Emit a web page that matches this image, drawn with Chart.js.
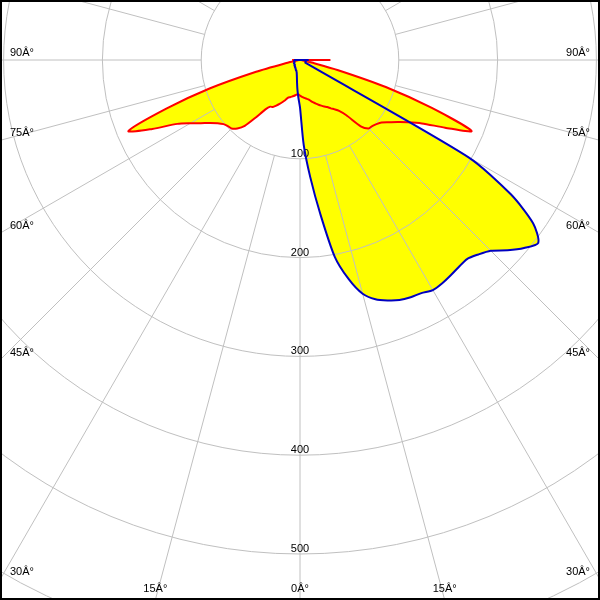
<!DOCTYPE html>
<html><head><meta charset="utf-8">
<script src="https://cdn.jsdelivr.net/npm/chart.js@4/dist/chart.umd.min.js"></script>
<style>html,body{margin:0;padding:0;background:#fff;overflow:hidden}canvas{display:block}</style>
</head><body>
<canvas id="c" width="600" height="600"></canvas>
<script>
// gamma angles (degrees from nadir), left plane negative, right plane positive
const angles = [];
for (let a = -90; a <= 90; a += 2.5) angles.push(a);

// red curve (C90-C270 plane), intensity values
const redValues = [
  8,3,2,2,4,14,46,96,144,188,165,140,128,119,111,105,101,99,98,94,87,73,61,56,55,52,49,46,43,40,39,38,37,36,35,35,
  36,
  37,38,39,40,41,43,45,47,49,51,53,55,58,61,65,73,91,98,99,101,104,110,117,126,139,162,188,142,91,40,12,4,2,2,3,30
];
// blue curve (C0-C180 plane)
const blueValues = [
  6,6,6,6,6,6,6,6,6,6,6,7,7,7,7,7,7,7,8,8,8,8,9,9,9,10,10,11,11,12,13,15,18,23,30,38,
  48,
  86,119,157,202,227,245,254,259,263,265,266,269,268,266,264,263,267,273,285,296,304,288,253,197,6,6,6,6,6,6,6,6,6,6,6,8
];

const ringValues = [100, 200, 300, 400, 500, 600];
const ringLabels = ['100', '200', '300', '400', '500'];
const spokeAngles = [];
for (let a = -165; a <= 180; a += 15) spokeAngles.push(a);
const angleLabelValues = [90, 75, 60, 45, 30, 15, 0];

function toXY(vals) {
  const pts = angles.map((a, i) => {
    const t = a * Math.PI / 180;
    return { x: vals[i] * Math.sin(t), y: -vals[i] * Math.cos(t) };
  });
  pts.push({ ...pts[0] });
  return pts;
}

const SCALE = 0.988; // px per candela unit
const polarGrid = {
  id: 'polarGrid',
  beforeDraw(chart) {
    const ctx = chart.ctx;
    ctx.save(); ctx.fillStyle = '#fff'; ctx.fillRect(0, 0, chart.width, chart.height); ctx.restore();
  },
  beforeDatasetsDraw(chart) {
    const { ctx, scales: { x, y } } = chart;
    const cx = x.getPixelForValue(0), cy = y.getPixelForValue(0);
    const rp = v => x.getPixelForValue(v) - cx;
    ctx.save();
    ctx.strokeStyle = '#c0c0c0';
    ctx.lineWidth = 1;
    ringValues.forEach(v => {
      ctx.beginPath(); ctx.arc(cx, cy, rp(v), 0, Math.PI * 2); ctx.stroke();
    });
    const r0 = rp(ringValues[0]);
    spokeAngles.forEach(a => {
      const t = a * Math.PI / 180;
      ctx.beginPath();
      ctx.moveTo(cx + r0 * Math.sin(t), cy + r0 * Math.cos(t));
      ctx.lineTo(cx + 1200 * Math.sin(t), cy + 1200 * Math.cos(t));
      ctx.stroke();
    });
    ctx.fillStyle = '#000';
    ctx.font = '11px "Liberation Sans", Arial, sans-serif';
    ctx.textAlign = 'center';
    ctx.textBaseline = 'alphabetic';
    ringLabels.forEach((lab, i) => {
      ctx.fillText(lab, cx, cy + rp(ringValues[i]) - 2);
    });
    ctx.restore();
  },
  afterDraw(chart) {
    const { ctx, width: W, height: H, scales: { x, y } } = chart;
    const cx = x.getPixelForValue(0), cy = y.getPixelForValue(0);
    ctx.save();
    ctx.fillStyle = '#000';
    ctx.font = '11px "Liberation Sans", Arial, sans-serif';
    ctx.textBaseline = 'middle';
    angleLabelValues.forEach(a => {
      const txt = a + 'Â°';
      const t = a * Math.PI / 180;
      const s = Math.sin(t), c = Math.cos(t);
      let yy = a === 90 ? cy : cy + cx * c / s;
      if (a !== 0 && yy <= H) {
        ctx.textAlign = 'left'; ctx.fillText(txt, 10, yy - 7.5);
        ctx.textAlign = 'right'; ctx.fillText(txt, W - 10, yy - 7.5);
      } else {
        const dx = (H - cy) * s / c;
        ctx.textAlign = 'center';
        if (a === 0) ctx.fillText(txt, cx, H - 11);
        else { ctx.fillText(txt, cx - dx, H - 11); ctx.fillText(txt, cx + dx, H - 11); }
      }
    });
    ctx.fillRect(0, 0, W, 2); ctx.fillRect(0, H - 2, W, 2);
    ctx.fillRect(0, 0, 2, H); ctx.fillRect(W - 2, 0, 2, H);
    ctx.restore();
  }
};

new Chart(document.getElementById('c'), {
  type: 'scatter',
  data: {
    datasets: [
      { data: toXY(blueValues), showLine: true, borderColor: '#0000c0', borderWidth: 2,
        backgroundColor: '#ffff00', fill: 'shape', pointRadius: 0, tension: 0.25, borderJoinStyle: 'round' },
      { data: toXY(redValues), showLine: true, borderColor: '#ff0000', borderWidth: 2,
        backgroundColor: '#ffff00', fill: 'shape', pointRadius: 0, tension: 0.25, borderJoinStyle: 'round' }
    ]
  },
  options: {
    responsive: false, animation: false, devicePixelRatio: 1,
    layout: { padding: 0 },
    scales: {
      x: { type: 'linear', display: false, min: -300 / SCALE, max: 300 / SCALE },
      y: { type: 'linear', display: false, min: -540 / SCALE, max: 60 / SCALE }
    },
    plugins: { legend: { display: false }, tooltip: { enabled: false }, filler: { drawTime: 'beforeDatasetsDraw' } },
    events: []
  },
  plugins: [polarGrid]
});
</script>
</body></html>
